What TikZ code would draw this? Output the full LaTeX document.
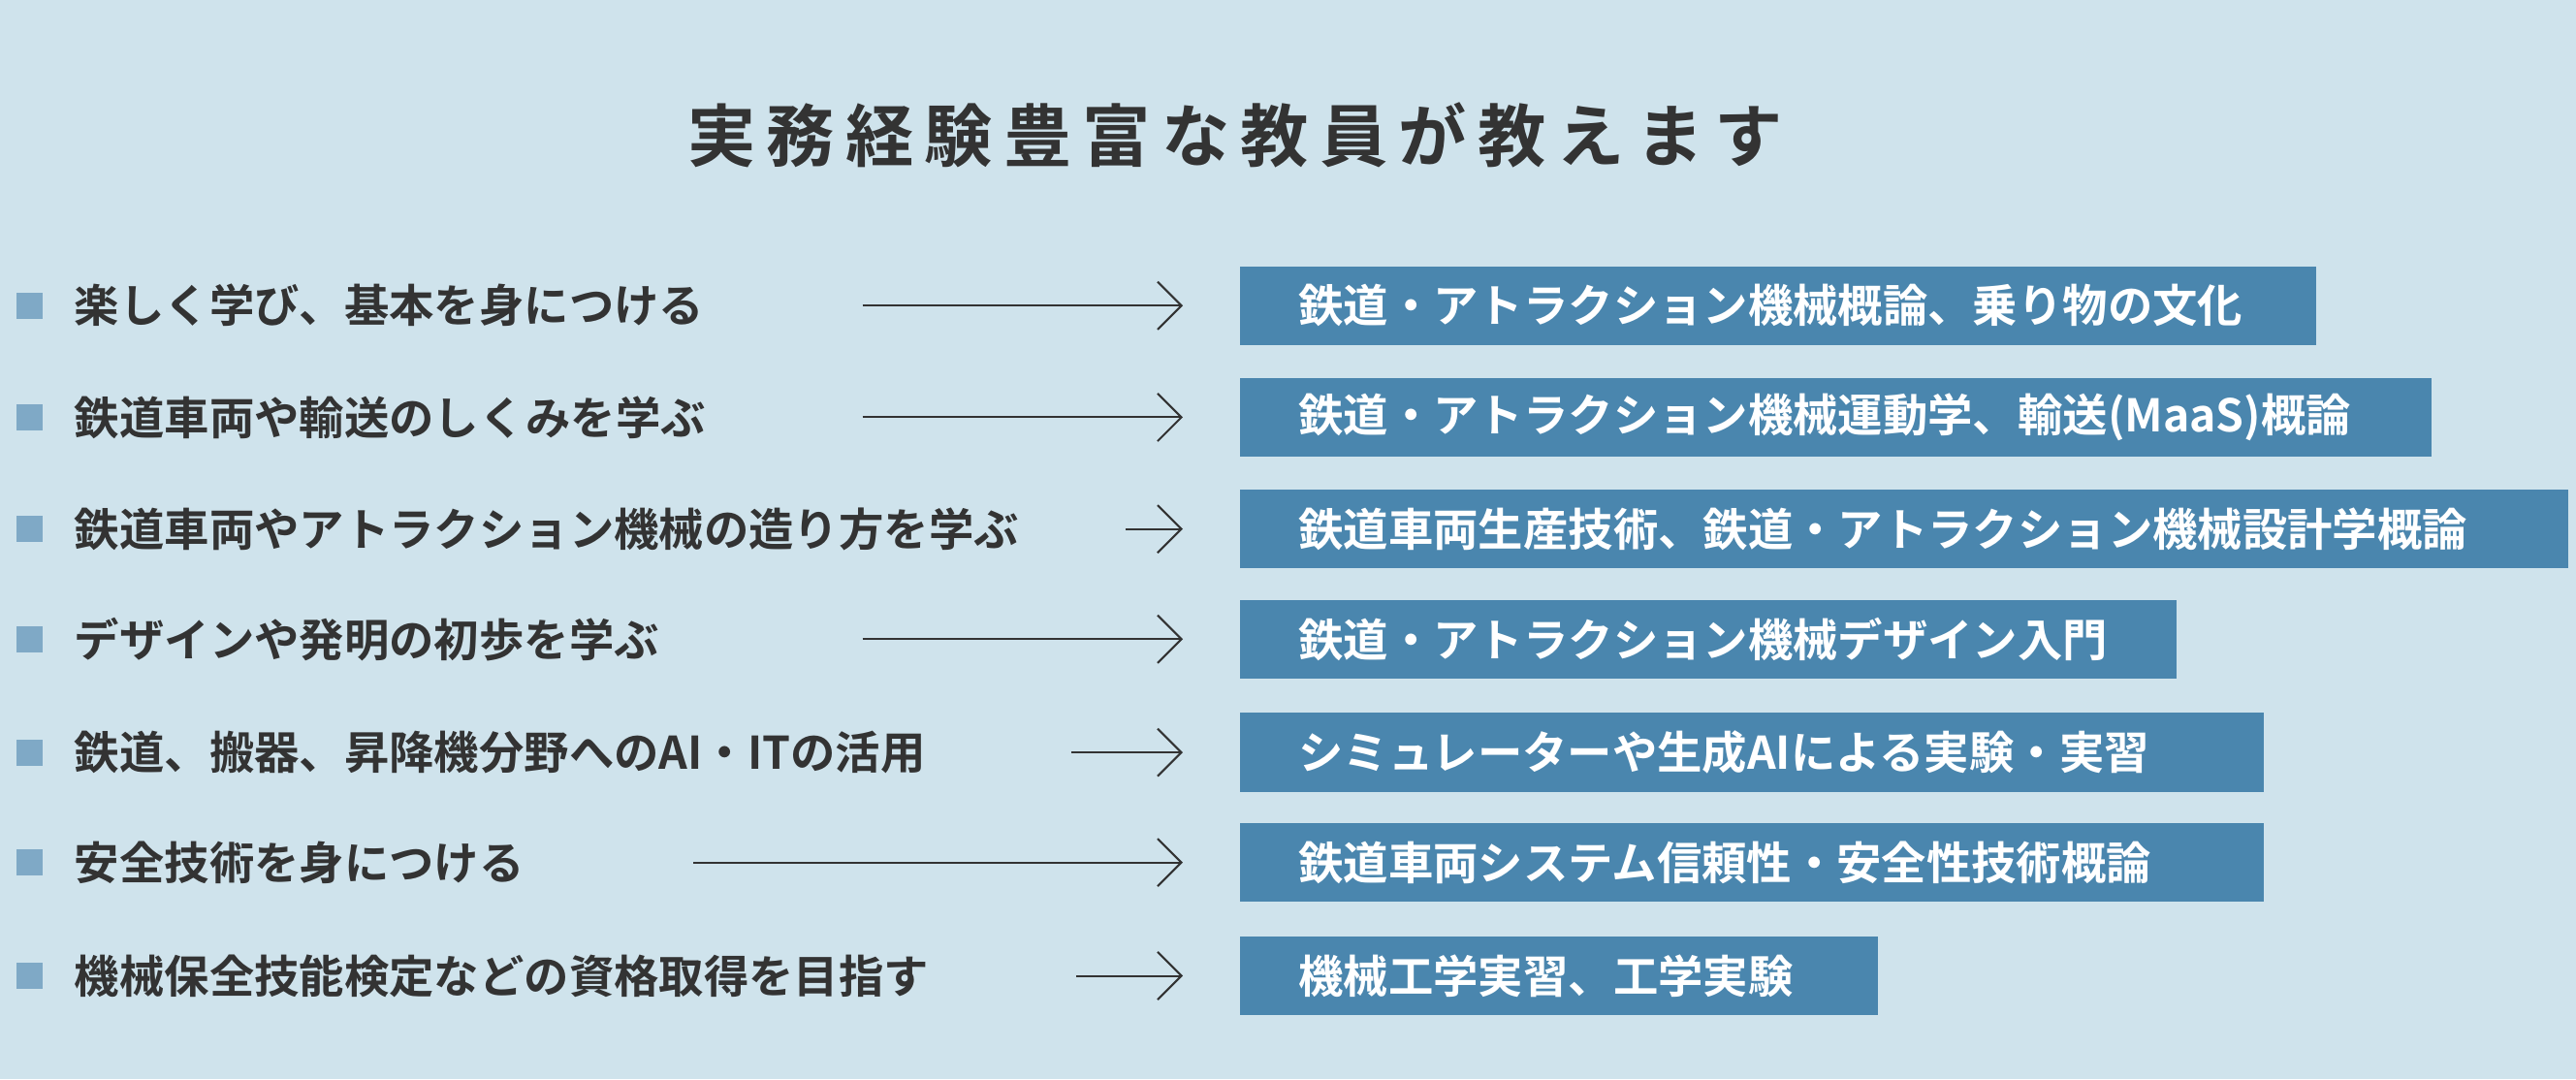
\documentclass[tikz,border=0pt]{standalone}
\usepackage{fontspec}
\setmainfont{Noto Sans CJK JP}[BoldFont={* Bold}]
\newfontfamily\titlefont{Noto Sans CJK JP Bold}[LetterSpace=16]
\usetikzlibrary{arrows.meta,positioning}
\definecolor{bgblue}{HTML}{CFE3EC}
\definecolor{boxblue}{HTML}{4A86AE}
\definecolor{bulletblue}{HTML}{7FA9C6}
\definecolor{textgray}{HTML}{333333}
\newcommand\pxu{0.016945cm}

\tikzset{
  item/.style={anchor=west, text=textgray, font=\bfseries\fontsize{13.2}{15}\selectfont, inner sep=0pt},
  bullet/.style={fill=bulletblue, minimum size=16*\pxu, inner sep=0pt},
  course/.style={anchor=west, fill=boxblue, text=white, font=\bfseries\fontsize{13}{15}\selectfont,
    minimum height=48*\pxu, inner sep=0pt, text width=#1*\pxu-35*\pxu, inner xsep=0pt,
    align=left, xshift=0pt, path picture={}, label={}},
  link/.style={-{Straight Barb[length=7pt,width=14pt]}, line width=0.6pt, textgray}
}

\begin{document}
\begin{tikzpicture}[x=\pxu, y=-\pxu]
  \fill[bgblue] (0,0) rectangle (1568,657);

  % Title
  \node[text=textgray, font=\titlefont\fontsize{20}{24}\selectfont] (title) at (752,82) {実務経験豊富な教員が教えます};

  % Row 1
  \node[bullet] (q1) at (18,186) {};
  \node[item] (l1) at (45,186) {楽しく学び、基本を身につける};
  \coordinate (s1) at (525,186);
  \fill[boxblue] (755,162) rectangle (1410,210);
  \node[item, text=white] (b1) at (790,186) {鉄道・アトラクション機械概論、乗り物の文化};
  \draw[link] (s1) -- ++(195,0);

  % Row 2
  \node[bullet] (q2) at (18,254) {};
  \node[item] (l2) at (45,254) {鉄道車両や輸送のしくみを学ぶ};
  \coordinate (s2) at (525,254);
  \fill[boxblue] (755,230) rectangle (1480,278);
  \node[item, text=white] (b2) at (790,254) {鉄道・アトラクション機械運動学、輸送(MaaS)概論};
  \draw[link] (s2) -- ++(195,0);

  % Row 3
  \node[bullet] (q3) at (18,322) {};
  \node[item] (l3) at (45,322) {鉄道車両やアトラクション機械の造り方を学ぶ};
  \coordinate (s3) at (685,322);
  \fill[boxblue] (755,298) rectangle (1563,346);
  \node[item, text=white] (b3) at (790,322) {鉄道車両生産技術、鉄道・アトラクション機械設計学概論};
  \draw[link] (s3) -- ++(35,0);

  % Row 4
  \node[bullet] (q4) at (18,389) {};
  \node[item] (l4) at (45,389) {デザインや発明の初歩を学ぶ};
  \coordinate (s4) at (525,389);
  \fill[boxblue] (755,365) rectangle (1325,413);
  \node[item, text=white] (b4) at (790,389) {鉄道・アトラクション機械デザイン入門};
  \draw[link] (s4) -- ++(195,0);

  % Row 5
  \node[bullet] (q5) at (18,458) {};
  \node[item] (l5) at (45,458) {鉄道、搬器、昇降機分野へのAI・ITの活用};
  \coordinate (s5) at (652,458);
  \fill[boxblue] (755,434) rectangle (1378,482);
  \node[item, text=white] (b5) at (790,458) {シミュレーターや生成AIによる実験・実習};
  \draw[link] (s5) -- ++(68,0);

  % Row 6
  \node[bullet] (q6) at (18,525) {};
  \node[item] (l6) at (45,525) {安全技術を身につける};
  \coordinate (s6) at (422,525);
  \fill[boxblue] (755,501) rectangle (1378,549);
  \node[item, text=white] (b6) at (790,525) {鉄道車両システム信頼性・安全性技術概論};
  \draw[link] (s6) -- ++(298,0);

  % Row 7
  \node[bullet] (q7) at (18,594) {};
  \node[item] (l7) at (45,594) {機械保全技能検定などの資格取得を目指す};
  \coordinate (s7) at (655,594);
  \fill[boxblue] (755,570) rectangle (1143,618);
  \node[item, text=white] (b7) at (790,594) {機械工学実習、工学実験};
  \draw[link] (s7) -- ++(65,0);
\end{tikzpicture}
\end{document}
